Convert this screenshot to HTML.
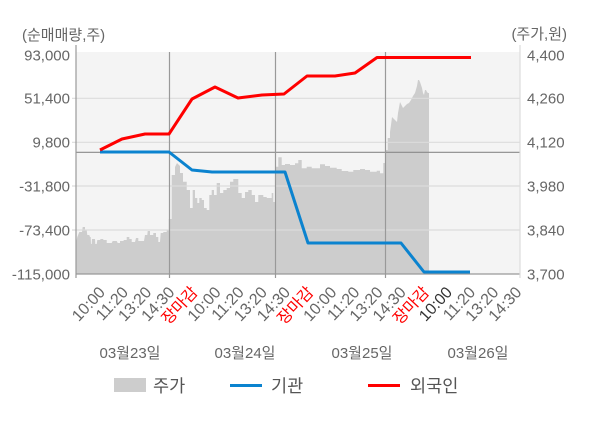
<!DOCTYPE html>
<html><head><meta charset="utf-8"><style>
html,body{margin:0;padding:0;background:#fff;}
svg{display:block;}
text{font-family:"Liberation Sans","Noto Sans CJK KR",sans-serif;}
</style></head><body>
<svg width="600" height="428" viewBox="0 0 600 428" xmlns="http://www.w3.org/2000/svg">
<rect x="0" y="0" width="600" height="428" fill="#fff"/>
<rect x="76" y="52" width="444" height="222" fill="#f4f4f4"/>
<path fill="#cdcdcd" d="M76,274 L76,243 L77.3,237 L79.3,232 L82,232 L82.7,227 L85,227 L85,230 L86.7,230 L87.3,235 L89.3,235 L90,237 L90.7,237 L91,244 L91.7,244 L92,239 L95,239 L95.3,244 L96.7,244 L97.3,240 L100,240 L100.7,239 L103.3,239 L103.3,240 L106.7,240 L106.7,243 L111.7,243 L112.7,241 L116.7,241 L117.7,243 L120,243 L120,241 L123.3,241 L124,240 L126.7,240 L126.7,237 L129.3,237 L129.3,239 L131.7,239 L131.7,242 L135,242 L136,238 L138.3,238 L138.3,241 L144,241 L145,235 L147.3,235 L147.7,231 L150,231 L150,235 L153.3,235 L153.3,233 L156,233 L156,237 L158.3,237 L158.3,242 L160,242 L160.7,233 L163.3,233 L163.3,232 L166.7,232 L166.7,230 L168.7,230 L168.7,219 L171.7,219 L171.7,175 L175,175 L175,167 L177,163 L180,166 L180,173 L183,173 L183,181.7 L186.7,181.7 L186.7,190 L190,190 L190,208 L192.7,208 L192.7,190 L195,190 L195,198 L197.3,198 L197.3,203 L199.3,203 L199.3,198 L201.7,198 L201.7,200 L204,200 L204,208 L206.7,208 L206.7,210 L209.3,210 L209.3,195 L211.7,195 L211.7,190 L214,190 L214,195 L216.7,195 L216.7,183 L220,183 L220,193 L223.3,193 L223.3,190 L226.7,190 L226.7,188 L230,188 L230,181.7 L233.3,181.7 L233.3,179 L238.3,179 L238.3,193 L241.7,193 L241.7,198 L245,198 L245,192 L248.3,192 L248.3,190 L251.7,190 L251.7,195 L255,195 L255,202 L258.3,202 L258.3,195 L263.3,195 L263.3,197 L266.7,197 L266.7,198 L271.7,198 L271.7,193 L273.3,193 L273.3,202 L275,202 L275.3,166.7 L278.3,166.7 L278.3,157.3 L281.7,157.3 L281.7,165 L285,165 L285,164 L290,164 L290,165 L295,165 L295,163.3 L298.3,163.3 L298.3,160 L301.7,160 L301.7,168.3 L306.7,168.3 L306.7,166.7 L311.7,166.7 L311.7,168.3 L320,168.3 L320,164.3 L325,164.3 L325,166 L330,166 L330,167.7 L336.7,167.7 L336.7,169 L341.7,169 L341.7,171 L348.3,171 L348.3,171.7 L353.3,171.7 L353.3,170 L360,170 L360,169 L365,169 L365,170 L370,170 L370,171.7 L376.7,171.7 L376.7,170.7 L380,170.7 L380,173.3 L383.3,173.3 L383.3,163 L385.3,163 L385.3,150 L387.7,150 L387.7,138 L390,138 L390,132 L391,125 L392,117 L393,118 L395,120 L397,122 L398,113 L400,102 L401,104 L403,108 L405,106 L407,104 L409,103 L411,100 L413,96 L415,93 L417,86 L418,80 L419,80 L420,82 L421,85 L422,88 L423,93 L424,95 L425,90 L426,90 L427,92 L428,93 L429,93 L429,274 Z"/>
<g stroke="#dcdcdc" stroke-width="1.2">
<line x1="72" y1="98.3" x2="520" y2="98.3"/>
<line x1="72" y1="142.3" x2="520" y2="142.3"/>
<line x1="72" y1="186" x2="520" y2="186"/>
<line x1="72" y1="230" x2="520" y2="230"/>
</g>
<line x1="76" y1="152.3" x2="520" y2="152.3" stroke="#8a8a8a" stroke-width="1.2"/>
<g stroke="#999" stroke-width="1.2">
<line x1="169.5" y1="52" x2="169.5" y2="278"/>
<line x1="275.5" y1="52" x2="275.5" y2="278"/>
<line x1="385.5" y1="52" x2="385.5" y2="278"/>
<line x1="76" y1="45" x2="76" y2="278"/>
<line x1="76" y1="274" x2="520" y2="274"/>
</g>
<line x1="520" y1="45" x2="520" y2="278" stroke="#dcdcdc" stroke-width="1.2"/>
<polyline fill="none" stroke="#0b83cf" stroke-width="3" stroke-linejoin="round" points="100,152 122,152 145,152 169,152 192,170 212,172 238,172 262,172 285,172 308,243 331,243 355,243 378,243 401,243 424,272 447,272 470,272"/>
<polyline fill="none" stroke="#ff0000" stroke-width="3" stroke-linejoin="round" points="100,150 122,139 145,134 169,134 192,99 215,87 238,98 262,95 284,94 307,76 335,76 355,73 377,57.5 401,57.5 424,57.5 447,57.5 471,57.5"/>
<g font-size="15" fill="#666">
<text x="22" y="40">(순매매량,주)</text>
<text x="567" y="39" text-anchor="end">(주가,원)</text>
<g text-anchor="end">
<text x="70" y="60.5">93,000</text>
<text x="70" y="103.5">51,400</text>
<text x="70" y="147.5">9,800</text>
<text x="70" y="191.5">-31,800</text>
<text x="70" y="235.5">-73,400</text>
<text x="70" y="279.5">-115,000</text>
</g>
<text x="527" y="60.5">4,400</text>
<text x="527" y="103.5">4,260</text>
<text x="527" y="147.5">4,120</text>
<text x="527" y="191.5">3,980</text>
<text x="527" y="235.5">3,840</text>
<text x="527" y="279.5">3,700</text>
<g text-anchor="middle">
<text x="130" y="358">03월23일</text>
<text x="245" y="358">03월24일</text>
<text x="362" y="358">03월25일</text>
<text x="478" y="358">03월26일</text>
</g>
</g>
<g font-size="16" fill="#666" text-anchor="end">
<text x="106" y="293" transform="rotate(-47 106 293)">10:00</text>
<text x="129.1" y="293" transform="rotate(-47 129.1 293)">11:20</text>
<text x="152.3" y="293" transform="rotate(-47 152.3 293)">13:20</text>
<text x="175.4" y="293" transform="rotate(-47 175.4 293)">14:30</text>
<text x="198.6" y="293" transform="rotate(-47 198.6 293)" fill="#ff0000">장마감</text>
<text x="221.7" y="293" transform="rotate(-47 221.7 293)">10:00</text>
<text x="244.8" y="293" transform="rotate(-47 244.8 293)">11:20</text>
<text x="268" y="293" transform="rotate(-47 268 293)">13:20</text>
<text x="291.1" y="293" transform="rotate(-47 291.1 293)">14:30</text>
<text x="314.3" y="293" transform="rotate(-47 314.3 293)" fill="#ff0000">장마감</text>
<text x="337.4" y="293" transform="rotate(-47 337.4 293)">10:00</text>
<text x="360.5" y="293" transform="rotate(-47 360.5 293)">11:20</text>
<text x="383.7" y="293" transform="rotate(-47 383.7 293)">13:20</text>
<text x="406.8" y="293" transform="rotate(-47 406.8 293)">14:30</text>
<text x="430" y="293" transform="rotate(-47 430 293)" fill="#ff0000">장마감</text>
<text x="453.1" y="293" transform="rotate(-47 453.1 293)" fill="#333">10:00</text>
<text x="476.2" y="293" transform="rotate(-47 476.2 293)">11:20</text>
<text x="499.4" y="293" transform="rotate(-47 499.4 293)">13:20</text>
<text x="522.5" y="293" transform="rotate(-47 522.5 293)">14:30</text>
</g>
<rect x="114" y="378" width="32" height="14" fill="#cdcdcd"/>
<line x1="230" y1="385.5" x2="262" y2="385.5" stroke="#0b83cf" stroke-width="3"/>
<line x1="368" y1="385.5" x2="400" y2="385.5" stroke="#ff0000" stroke-width="3"/>
<g font-size="17.5" fill="#555">
<text x="153" y="392">주가</text>
<text x="271" y="392">기관</text>
<text x="410" y="392">외국인</text>
</g>
</svg>
</body></html>
